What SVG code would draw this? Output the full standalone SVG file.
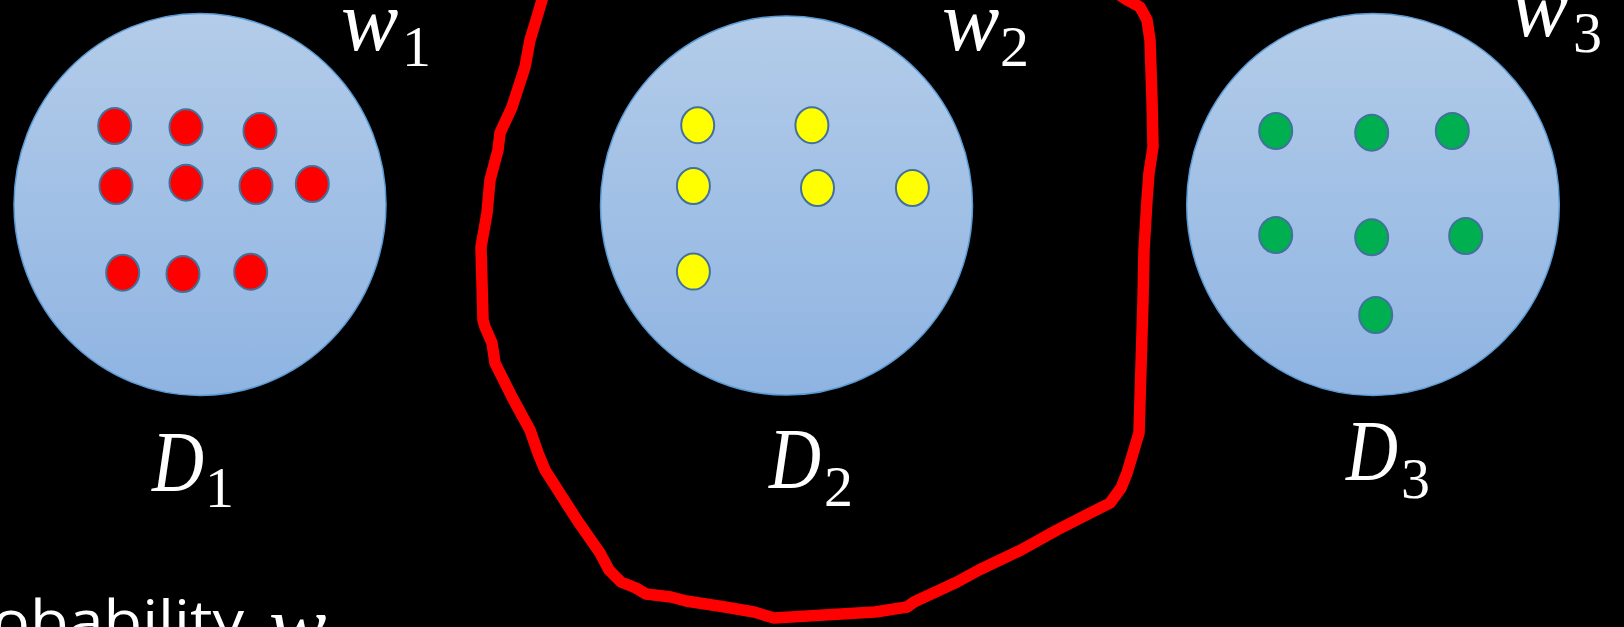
<svg xmlns="http://www.w3.org/2000/svg" width="1624" height="627" viewBox="0 0 1624 627">
  <defs>
    <linearGradient id="blueGrad" x1="0" y1="0" x2="0" y2="1">
      <stop offset="0" stop-color="#b3cce9"/>
      <stop offset="1" stop-color="#8fb4e2"/>
    </linearGradient>
  </defs>
  <style>
    .disk { fill: url(#blueGrad); stroke: #5b9bd5; stroke-width: 1.5; }
    .dot { stroke: #41719c; stroke-width: 2; }
    .red { fill: #ff0000; }
    .yellow { fill: #ffff00; }
    .green { fill: #00b050; }
    .var { font-family: "Liberation Serif", "DejaVu Serif", serif; font-style: italic; fill: #ffffff; font-size: 86px; }
    .sub { font-family: "Liberation Serif", "DejaVu Serif", serif; fill: #ffffff; font-size: 58px; }
    .body { font-family: "Open Sans", "Liberation Sans", sans-serif; fill: #ffffff; font-size: 56px; }
    .lasso { fill: none; stroke: #ff0000; stroke-width: 11.5; stroke-linejoin: round; stroke-linecap: round; }
  </style>
  <rect x="0" y="0" width="1624" height="627" fill="#000000"/>

  <g id="D1">
    <ellipse class="disk" cx="200" cy="204.5" rx="186" ry="191"/>
    <ellipse class="dot red" cx="114.7" cy="126" rx="16.5" ry="18"/>
    <ellipse class="dot red" cx="186" cy="127.3" rx="16.5" ry="18"/>
    <ellipse class="dot red" cx="260" cy="131" rx="16.5" ry="18"/>
    <ellipse class="dot red" cx="116" cy="186" rx="16.5" ry="18"/>
    <ellipse class="dot red" cx="186" cy="182.7" rx="16.5" ry="18"/>
    <ellipse class="dot red" cx="256" cy="186" rx="16.5" ry="18"/>
    <ellipse class="dot red" cx="312.3" cy="184" rx="16.5" ry="18"/>
    <ellipse class="dot red" cx="122.7" cy="272.7" rx="16.5" ry="18"/>
    <ellipse class="dot red" cx="183" cy="274" rx="16.5" ry="18"/>
    <ellipse class="dot red" cx="250.7" cy="271.7" rx="16.5" ry="18"/>
    <text class="var" x="341" y="50">w</text>
    <text class="sub" x="402" y="66">1</text>
    <text class="var" x="152" y="490.7" textLength="52" lengthAdjust="spacingAndGlyphs">D</text>
    <text class="sub" x="205" y="506.7">1</text>
  </g>

  <g id="D2">
    <ellipse class="disk" cx="786.5" cy="205.5" rx="186" ry="189.5"/>
    <ellipse class="dot yellow" cx="697.7" cy="125.2" rx="16.5" ry="18"/>
    <ellipse class="dot yellow" cx="811.9" cy="125.2" rx="16.5" ry="18"/>
    <ellipse class="dot yellow" cx="693.4" cy="186" rx="16.5" ry="18"/>
    <ellipse class="dot yellow" cx="817.5" cy="188" rx="16.5" ry="18"/>
    <ellipse class="dot yellow" cx="912.4" cy="188" rx="16.5" ry="18"/>
    <ellipse class="dot yellow" cx="693.4" cy="271.6" rx="16.5" ry="18"/>
    <text class="var" x="942" y="50">w</text>
    <text class="sub" x="1000" y="66">2</text>
    <text class="var" x="769" y="488" textLength="52" lengthAdjust="spacingAndGlyphs">D</text>
    <text class="sub" x="824" y="506">2</text>
  </g>

  <g id="D3">
    <ellipse class="disk" cx="1373" cy="204.5" rx="186.3" ry="191"/>
    <ellipse class="dot green" cx="1275.7" cy="131" rx="16.5" ry="18"/>
    <ellipse class="dot green" cx="1371.7" cy="132.7" rx="16.5" ry="18"/>
    <ellipse class="dot green" cx="1452.3" cy="131" rx="16.5" ry="18"/>
    <ellipse class="dot green" cx="1275.7" cy="235" rx="16.5" ry="18"/>
    <ellipse class="dot green" cx="1371.7" cy="237.3" rx="16.5" ry="18"/>
    <ellipse class="dot green" cx="1465.7" cy="236" rx="16.5" ry="18"/>
    <ellipse class="dot green" cx="1375.7" cy="315" rx="16.5" ry="18"/>
    <text class="var" x="1511" y="36">w</text>
    <text class="sub" x="1573" y="52">3</text>
    <text class="var" x="1346" y="480" textLength="52" lengthAdjust="spacingAndGlyphs">D</text>
    <text class="sub" x="1401" y="498">3</text>
  </g>

  <g id="connectors">
    <path id="lasso" class="lasso" d="M544,-8 L542,0 L537,17 L530,40 L525,67 L512,107 L500,133 L498,150 L490,180 L487,213 L481,247 L482,283 L483,320 L485,327 L492,343 L495,363 L505,383 L512,397 L530,430 L538,453 L545,470 L577,520 L600,553 L609,570 L621,582 L636,588 L646,594 L671,597 L686,601 L725,607 L754,612 L774,618 L875,612 L907,607 L914,602 L957,582 L979,570 L1021,550 L1057,530 L1110,503 L1121,488 L1127,473 L1133,453 L1139,433 L1141,367 L1143,300 L1144,250 L1147,200 L1149,173 L1153,147 L1152,100 L1150,40 L1147,20 L1140,7 L1127,0 L1115,-8"/>
  </g>

  <g id="caption">
    <text class="body" x="-8" y="641" textLength="252" lengthAdjust="spacingAndGlyphs">obability</text>
    <text class="var" x="269" y="655">w</text>
  </g>
</svg>
